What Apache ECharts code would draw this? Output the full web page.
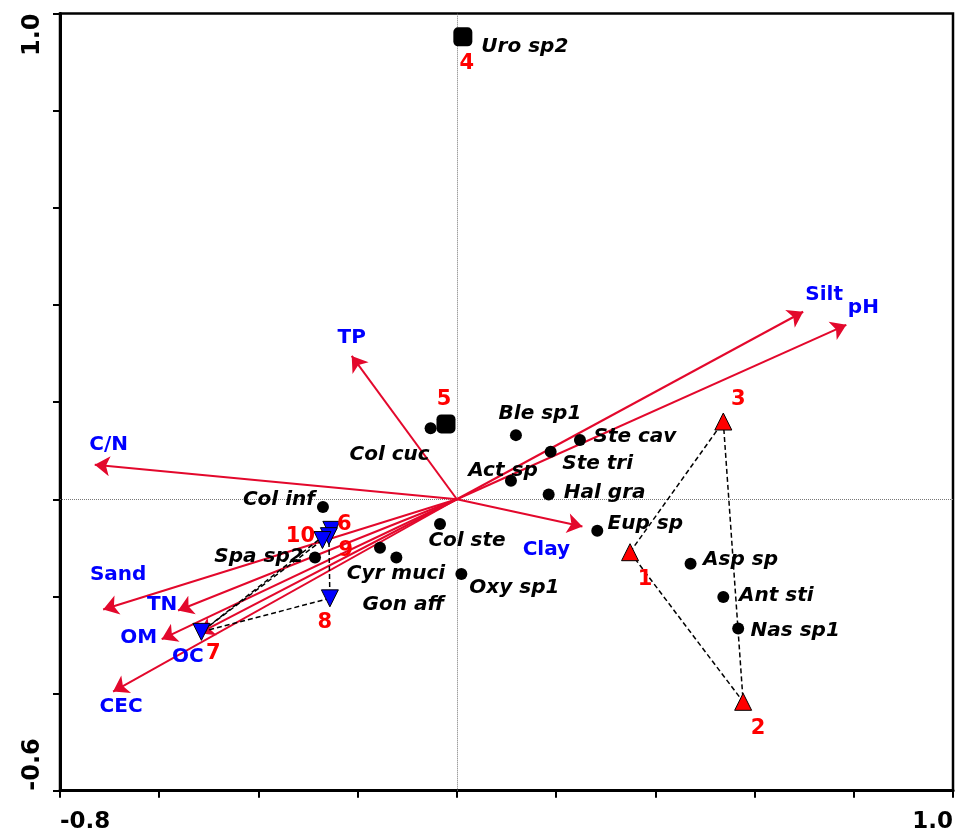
<!DOCTYPE html>
<html><head><meta charset="utf-8">
<script src="https://cdn.jsdelivr.net/npm/echarts@6/dist/echarts.min.js"></script>
<style>html,body{margin:0;padding:0;background:#fff}#chart{width:958px;height:835px}</style>
</head><body><div id="chart"></div>
<script>
// ---- tick labels ----
const xTickLabels = ['-0.8', '1.0'];
const yTickLabels = ['-0.6', '1.0'];

// ---- species scores ----
const speciesNames = ['Uro sp2','Col cuc','Ble sp1','Ste cav','Ste tri','Act sp','Hal gra','Eup sp','Asp sp','Ant sti','Nas sp1','Oxy sp1','Col inf','Spa sp2','Col ste','Cyr muci','Gon aff'];
const speciesX = [0.012,-0.053,0.119,0.248,0.189,0.109,0.185,0.283,0.471,0.537,0.567,0.009,-0.270,-0.286,-0.034,-0.155,-0.122];
const speciesY = [0.952,0.146,0.132,0.122,0.098,0.038,0.010,-0.065,-0.133,-0.201,-0.266,-0.154,-0.016,-0.120,-0.051,-0.100,-0.120];

// ---- site scores ----
const siteNames = ['1','2','3','4','5','6','7','8','9','10'];
const siteX = [0.349,0.577,0.537,0.012,-0.022,-0.253,-0.515,-0.256,-0.258,-0.271];
const siteY = [-0.109,-0.417,0.160,0.952,0.155,-0.063,-0.273,-0.204,-0.076,-0.084];
const siteGroup = ['A','A','A','S','S','B','B','B','B','B'];

// ---- environmental vectors ----
const envNames = ['Silt','pH','TP','C/N','Sand','TN','OM','OC','CEC','Clay'];
const envX = [0.698,0.785,-0.212,-0.730,-0.713,-0.562,-0.595,-0.520,-0.693,0.253];
const envY = [0.386,0.359,0.295,0.071,-0.227,-0.229,-0.288,-0.276,-0.396,-0.056];

// ---- hull paths (site names) ----
const hullPaths = [['1','3','2','1'], ['10','7','8','9'], ['7','6']];

// ---- label placement (pixel offsets, style only) ----
const speciesLabelOffset = {
  'Uro sp2':[62,10],'Col cuc':[-41,26],'Ble sp1':[24,-21],'Ste cav':[55,-3],'Ste tri':[47,12],
  'Act sp':[-8,-10],'Hal gra':[56,-2],'Eup sp':[48,-7],'Asp sp':[50,-4],'Ant sti':[53,-1],
  'Nas sp1':[57,2],'Oxy sp1':[53,14],'Col inf':[-44,-7],'Spa sp2':[-56,-1],'Col ste':[27,17],
  'Cyr muci':[16,26],'Gon aff':[7,47]
};
const siteLabelOffset = {
  '1':[15,27],'2':[15,27],'3':[15,-22],'4':[4,27],'5':[-2,-24],
  '6':[13,-5],'7':[12,22],'8':[-5,24],'9':[17,14],'10':[-22,-4]
};
const envLabelOffset = {
  'Silt':[21,-17],'pH':[17,-17],'TP':[0,-18],'C/N':[14,-20],'Sand':[15,-35],
  'TN':[-16,-6],'OM':[-23,-1],'OC':[-11,23],'CEC':[8,15],'Clay':[-36,23]
};

const FONT = 'DejaVu Sans';
const arrowColor = '#e3082c';
const envColor = '#0000ff';
const siteColor = '#ff0000';

function near(a, b) { return Math.abs(a - b) < 1e-6; }

const speciesData = speciesNames.map((n, i) => ({
  name: n, value: [speciesX[i], speciesY[i]],
  label: { offset: speciesLabelOffset[n] }
}));

function siteData(g) {
  const out = [];
  siteNames.forEach((n, i) => {
    if (siteGroup[i] === g) out.push({ name: n, value: [siteX[i], siteY[i]], label: { offset: siteLabelOffset[n] } });
  });
  return out;
}

const siteLabel = { show: true, position: 'inside', formatter: '{b}', color: siteColor,
  fontFamily: FONT, fontWeight: 'bold', fontSize: 21 };

const hullSeries = hullPaths.map(p => ({
  type: 'line', z: 3, silent: true, showSymbol: false, symbol: 'none',
  data: p.map(n => { const i = siteNames.indexOf(n); return [siteX[i], siteY[i]]; }),
  lineStyle: { color: '#000', width: 1.5, type: [5, 3], opacity: 1 }
}));

const option = {
  animation: false,
  grid: { left: 60, right: 5, top: 13.5, bottom: 44.3, show: true, borderColor: '#000', borderWidth: 2.5, containLabel: false },
  xAxis: {
    type: 'value', min: -0.8, max: 1.0, interval: 0.2,
    axisLine: { show: true, onZero: false, lineStyle: { color: '#000', width: 3 } },
    axisTick: { show: true, length: 7, lineStyle: { color: '#000', width: 2 } },
    splitLine: { show: false },
    axisLabel: {
      formatter: v => near(v, -0.8) ? xTickLabels[0] : (near(v, 1.0) ? xTickLabels[1] : ''),
      fontFamily: FONT, fontWeight: 'bold', fontSize: 23, color: '#000', margin: 20,
      showMinLabel: true, showMaxLabel: true, alignMinLabel: 'left', alignMaxLabel: 'right'
    }
  },
  yAxis: {
    type: 'value', min: -0.6, max: 1.0, interval: 0.2,
    axisLine: { show: true, onZero: false, lineStyle: { color: '#000', width: 3 } },
    axisTick: { show: true, length: 7, lineStyle: { color: '#000', width: 2 } },
    splitLine: { show: false },
    axisLabel: {
      formatter: v => near(v, -0.6) ? yTickLabels[0] : (near(v, 1.0) ? yTickLabels[1] : ''),
      rotate: 90, fontFamily: FONT, fontWeight: 'bold', fontSize: 24, color: '#000', margin: 15,
      showMinLabel: true, showMaxLabel: true, alignMinLabel: 'left', alignMaxLabel: 'right'
    }
  },
  series: [
    {
      type: 'lines', coordinateSystem: 'cartesian2d', z: 2, silent: true,
      data: envNames.map((n, i) => ({ coords: [[0, 0], [envX[i], envY[i]]] })),
      lineStyle: { color: arrowColor, width: 2, opacity: 1 },
      symbol: ['none', 'arrow'], symbolSize: 15
    },
    ...hullSeries,
    {
      type: 'scatter', name: 'species', z: 4, silent: true,
      symbol: 'circle', symbolSize: 12, itemStyle: { color: '#000', opacity: 1 },
      data: speciesData,
      label: { show: true, position: 'inside', formatter: '{b}', color: '#000',
        fontFamily: FONT, fontWeight: 'bold', fontStyle: 'italic', fontSize: 20 },
      markLine: {
        silent: true, symbol: 'none', z: 1, animation: false,
        label: { show: false },
        lineStyle: { color: '#777', width: 1, type: 'dotted', opacity: 1 },
        data: [{ xAxis: 0 }, { yAxis: 0 }]
      }
    },
    {
      type: 'scatter', z: 5, silent: true, symbol: 'roundRect', symbolSize: 19,
      itemStyle: { color: '#000', opacity: 1 }, data: siteData('S'), label: siteLabel
    },
    {
      type: 'scatter', z: 5, silent: true, symbol: 'triangle', symbolSize: 17,
      itemStyle: { color: '#ff0000', borderColor: '#000', borderWidth: 1, opacity: 1 }, data: siteData('A'), label: siteLabel
    },
    {
      type: 'scatter', z: 5, silent: true, symbol: 'triangle', symbolSize: 17, symbolRotate: 180,
      itemStyle: { color: '#0000ff', borderColor: '#000', borderWidth: 1, opacity: 1 }, data: siteData('B'), label: siteLabel
    },
    {
      type: 'scatter', z: 6, silent: true, symbol: 'circle', symbolSize: 1,
      itemStyle: { color: 'transparent', opacity: 1 },
      data: envNames.map((n, i) => ({ name: n, value: [envX[i], envY[i]], label: { offset: envLabelOffset[n] } })),
      label: { show: true, position: 'inside', formatter: '{b}', color: envColor,
        fontFamily: FONT, fontWeight: 'bold', fontSize: 20 }
    }
  ]
};

const chart = echarts.init(document.getElementById('chart'));
chart.setOption(option);
</script>
</body></html>
